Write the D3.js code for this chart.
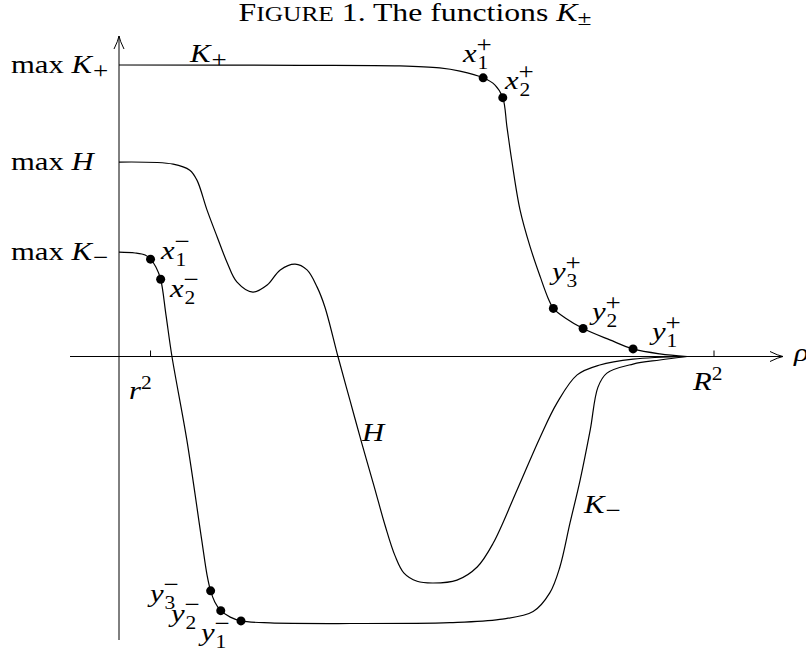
<!DOCTYPE html>
<html>
<head>
<meta charset="utf-8">
<script src="https://cdn.jsdelivr.net/npm/d3@7"></script>
<style>
  body { margin: 0; background: #fff; }
  svg { display: block; font-family: "Liberation Serif", "DejaVu Serif", serif; }
</style>
</head>
<body>
<svg id="fig" width="806" height="652"></svg>
<script>
// curves, as [rho, value] with R^2 = 10 and max K+ = 10
var kPlus = [[0,10],[3.04,9.99],[4.72,9.97],[5.39,9.90],[5.73,9.79],[6.12,9.56],[6.32,9.31],[6.45,8.88],
  [6.52,7.88],[6.60,6.74],[6.74,5.03],[6.91,3.76],[7.08,2.73],[7.21,2.01],[7.30,1.65],[7.50,1.32],
  [7.80,0.96],[8.25,0.57],[8.64,0.26],[9.09,0.09],[9.55,0]];
var kMinus = [[0,3.58],[0.27,3.55],[0.44,3.48],[0.53,3.34],[0.62,3.07],[0.70,2.65],[0.79,1.42],[0.89,0],
  [1.14,-2.86],[1.39,-6.29],[1.48,-7.50],[1.54,-8.04],[1.61,-8.42],[1.71,-8.72],[1.87,-8.94],[2.05,-9.07],
  [2.54,-9.14],[3.88,-9.16],[5.56,-9.13],[6.40,-9.02],[6.96,-8.75],[7.24,-8.11],[7.41,-7.22],[7.58,-5.71],
  [7.75,-4.24],[7.92,-2.52],[8.05,-1.05],[8.20,-0.57],[8.64,-0.26],[9.09,-0.12],[9.55,0]];
var hCurve = [[0,6.67],[0.91,6.60],[1.19,6.39],[1.31,6.05],[1.48,5.02],[1.65,4.10],[1.82,3.21],[1.98,2.56],
  [2.25,2.21],[2.49,2.45],[2.71,2.97],[2.96,3.17],[3.16,2.97],[3.33,2.38],[3.46,1.70],[3.68,0],
  [3.88,-1.49],[4.08,-2.97],[4.29,-4.47],[4.47,-5.78],[4.64,-6.84],[4.79,-7.43],[5.01,-7.71],[5.28,-7.77],
  [5.68,-7.67],[6.02,-7.22],[6.29,-6.40],[6.69,-4.58],[7.08,-2.76],[7.36,-1.60],[7.70,-0.63],[8.08,-0.29],
  [8.64,-0.09],[9.55,0]];

// marked points on the curves
var plusPts = [[6.12,9.56],[6.45,8.88],[7.30,1.65],[7.80,0.96],[8.64,0.26]];
var plusNames = [["x","1"],["x","2"],["y","3"],["y","2"],["y","1"]];
var minusPts = [[0.53,3.34],[0.70,2.65],[1.54,-8.04],[1.71,-8.72],[2.05,-9.07]];
var minusNames = [["x","1"],["x","2"],["y","3"],["y","2"],["y","1"]];

// axis marks
var rhoTicks = [0.53, 10];
var rhoTickNames = ["r", "R"];
var levels = [10, 6.67, 3.58];
var levelNames = [["K","+"],["H",""],["K","\u2212"]];

var svg = d3.select("#fig");
var FS = 26, SX = 1.18;   // computer modern is wider than times, stretch a bit

var x = d3.scaleLinear().domain([0,10]).range([119,714]);
var y = d3.scaleLinear().domain([0,10]).range([356.5,65]);

// title
var title = svg.append("text").attr("transform","translate(415,21) scale(1.27,1)")
  .attr("text-anchor","middle").attr("font-size",25);
title.append("tspan").text("F");
title.append("tspan").attr("font-size",25*0.8).text("IGURE");
title.append("tspan").text(" 1. The functions ");
title.append("tspan").attr("font-style","italic").text("K");
title.append("tspan").attr("font-size",25*0.8).attr("dy",4).text("\u00b1");

// axes
function arrowHead(tx, ty, dir){
  // open LaTeX style arrow head
  var L = 13, W = 5;
  var p;
  if (dir === "right")
    p = "M"+(tx-L)+","+(ty-W)+" Q"+(tx-5)+","+(ty-1)+" "+tx+","+ty+" Q"+(tx-5)+","+(ty+1)+" "+(tx-L)+","+(ty+W);
  else
    p = "M"+(tx-W)+","+(ty+L)+" Q"+(tx-1)+","+(ty+5)+" "+tx+","+ty+" Q"+(tx+1)+","+(ty+5)+" "+(tx+W)+","+(ty+L);
  svg.append("path").attr("d",p).attr("fill","none").attr("stroke","#000").attr("stroke-width",1);
}
svg.append("line").attr("x1",70).attr("x2",783).attr("y1",y(0)).attr("y2",y(0))
  .attr("stroke","#000").attr("stroke-width",1);
arrowHead(783, y(0), "right");
svg.append("line").attr("x1",x(0)).attr("x2",x(0)).attr("y1",640).attr("y2",36)
  .attr("stroke","#000").attr("stroke-width",1);
arrowHead(x(0), 36, "up");

svg.selectAll("line.tick").data(rhoTicks).enter().append("line").attr("class","tick")
  .attr("x1",d=>x(d)).attr("x2",d=>x(d)).attr("y1",y(0)-6).attr("y2",y(0))
  .attr("stroke","#000").attr("stroke-width",1);

// plain text, stretched; returns its drawn width
function txt(px, py, s, size, italic){
  var t = svg.append("text").attr("transform","translate("+px+","+py+") scale("+SX+",1)")
    .attr("font-size",size).attr("font-style", italic ? "italic" : "normal").text(s);
  return t.node().getComputedTextLength()*SX;
}
// math label: base letter with optional sub / sup stacked
function mlabel(px, py, base, sub, sup, italic){
  var w = txt(px, py, base, FS, italic !== false);
  var s = FS*0.7, sg = FS*0.88;   // plus / minus signs drawn larger, as in TeX
  if (sub) txt(px+w+1, py+(sup ? 7 : 5), sub, /\d/.test(sub) ? s : sg, false);
  if (sup) txt(px+w, py-10, sup, /\d/.test(sup) ? s : sg, false);
}

// level labels on the vertical axis
levels.forEach(function(v,i){
  var w = txt(11, y(v)+8, "max", FS, false);
  mlabel(11+w+0.3*FS, y(v)+8, levelNames[i][0], levelNames[i][1], null);
});

// tick labels
mlabel(129, 399, rhoTickNames[0], null, "2");
mlabel(693, 390, rhoTickNames[1], null, "2");
mlabel(794, 361, "\u03c1", null, null);

// curves
var line = d3.line().x(d=>x(d[0])).y(d=>y(d[1])).curve(d3.curveCatmullRom.alpha(0.5));
[kPlus, hCurve, kMinus].forEach(function(c){
  svg.append("path").datum(c).attr("d",line).attr("fill","none")
    .attr("stroke","#000").attr("stroke-width",1.2);
});

// curve names
mlabel(190, 62, "K", "+", null);
mlabel(362, 441, "H", null, null);
mlabel(584, 513, "K", "\u2212", null);

// dots
svg.selectAll("circle.p").data(plusPts.concat(minusPts)).enter().append("circle").attr("class","p")
  .attr("cx",d=>x(d[0])).attr("cy",d=>y(d[1])).attr("r",4.5).attr("fill","#000");

// point labels (layout positions in px)
var plusLab = [[463,62],[505,89],[552,280],[592,320],[652,340]];
var minusLab = [[161,259],[170,297],[150,602],[171,622],[201,641]];
plusNames.forEach(function(n,i){ mlabel(plusLab[i][0], plusLab[i][1], n[0], n[1], "+"); });
minusNames.forEach(function(n,i){ mlabel(minusLab[i][0], minusLab[i][1], n[0], n[1], "\u2212"); });
</script>
</body>
</html>
